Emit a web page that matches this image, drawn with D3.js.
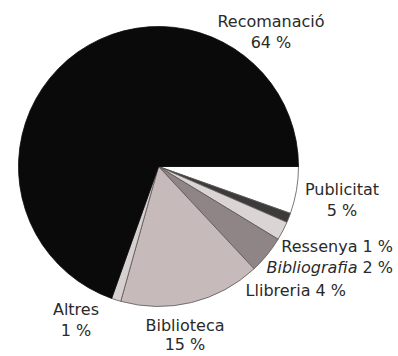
<!DOCTYPE html>
<html>
<head>
<meta charset="utf-8">
<script src="https://cdn.jsdelivr.net/npm/d3@7/dist/d3.min.js"></script>
<style>
  html, body { margin: 0; padding: 0; background: #ffffff; }
  svg { display: block; }
  text { font-family: "DejaVu Sans", sans-serif; font-size: 16px; fill: #2a2a2a; }
</style>
</head>
<body>
<svg id="chart" width="398" height="356"></svg>
<script>
// Sources, in drawing order (clockwise from three o'clock)
const categories = ["Publicitat", "Ressenya", "Bibliografia", "Llibreria", "Biblioteca", "Altres", "Recomanació"];
const values = [5, 1, 2, 4, 15, 1, 64];
const fills = ["#ffffff", "#3c3a3a", "#dad5d4", "#8f8586", "#c6bbba", "#d6d1d0", "#0a0a0a"];

// Label placement: [x, y, anchor, layout, gap] where layout is "stack" (name above value) or "inline"
const labelLayout = [
  [342, 195, "middle", "stack", 21],
  [393, 252, "end", "inline", 0],
  [393, 273, "end", "inline", 0],
  [346, 296, "end", "inline", 0],
  [185, 331, "middle", "stack", 19],
  [76, 315, "middle", "stack", 21],
  [271, 27, "middle", "stack", 21]
];

const svg = d3.select("#chart");
const cx = 158.5, cy = 166.5, r = 140;

const pie = d3.pie()
  .sort(null)
  .value(d => d.value)
  .startAngle(Math.PI / 2)
  .endAngle(Math.PI / 2 + 2 * Math.PI);

const data = categories.map((c, i) => ({ name: c, value: values[i], fill: fills[i] }));
const arcs = pie(data);
const arc = d3.arc().innerRadius(0).outerRadius(r);

const g = svg.append("g").attr("transform", `translate(${cx},${cy})`);

g.selectAll("path")
  .data(arcs)
  .join("path")
  .attr("d", arc)
  .attr("fill", d => d.data.fill)
  .attr("stroke", d => d.data.name === "Recomanació" ? "#0a0a0a" : "#5a5454")
  .attr("stroke-width", 0.8)
  .attr("stroke-linejoin", "round");

// Labels
const fmt = v => `${v} %`;
arcs.forEach((d, i) => {
  const [x, y, anchor, layout, gap] = labelLayout[i];
  const name = d.data.name;
  const italic = name === "Bibliografia";
  if (layout === "stack") {
    svg.append("text").attr("x", x).attr("y", y).attr("text-anchor", anchor).text(name);
    svg.append("text").attr("x", x).attr("y", y + gap).attr("text-anchor", anchor).text(fmt(d.data.value));
  } else {
    const t = svg.append("text").attr("x", x).attr("y", y).attr("text-anchor", anchor);
    t.append("tspan").attr("font-style", italic ? "italic" : null).text(name);
    t.append("tspan").text(" " + fmt(d.data.value));
  }
});
</script>
</body>
</html>
